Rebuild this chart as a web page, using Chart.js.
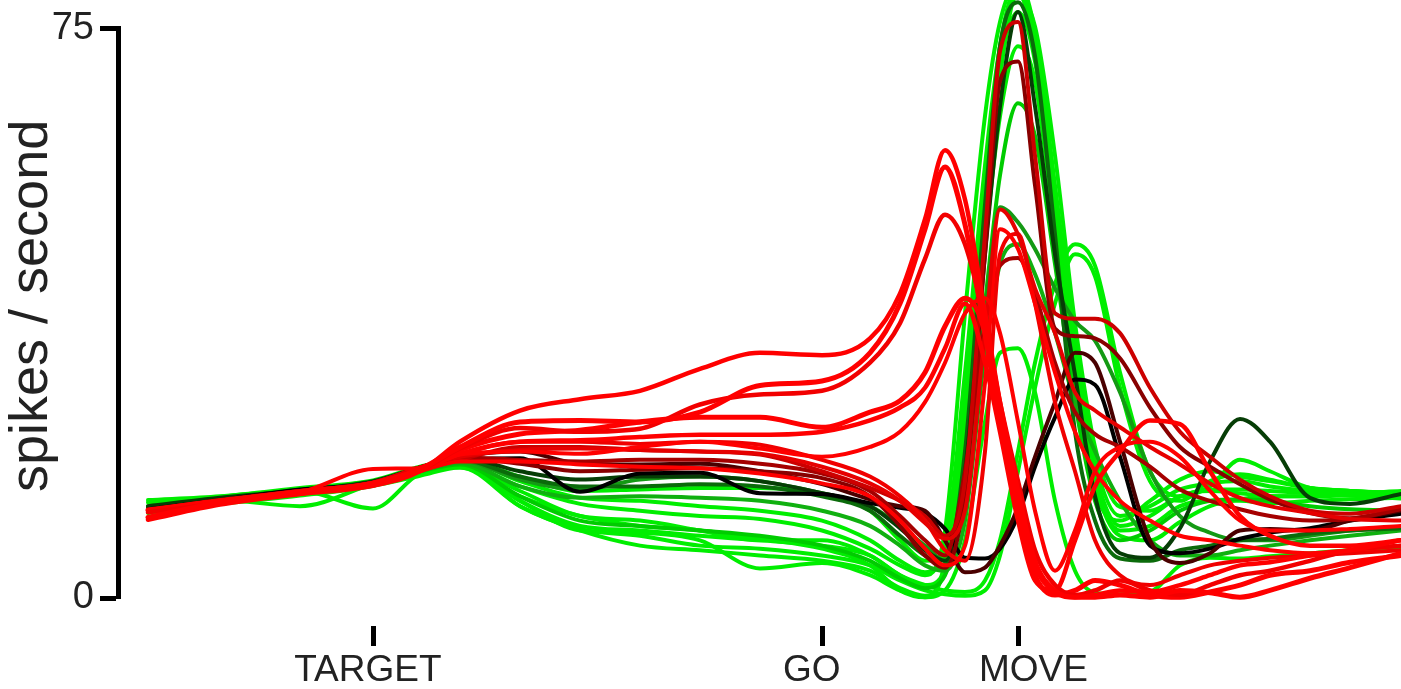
<!DOCTYPE html>
<html>
<head>
<meta charset="utf-8">
<script src="https://cdn.jsdelivr.net/npm/chart.js@4.4.1/dist/chart.umd.min.js"></script>
<style>
  html, body { margin: 0; padding: 0; background: #ffffff; }
  #wrap { width: 1401px; height: 689px; position: relative; }
</style>
</head>
<body>
<div id="wrap"><canvas id="psth" width="1401" height="689"></canvas></div>
<script>
// Sample times (ms, target onset = 0)
const timeMs = [-225,-153,-73,0,47,87,147,207,267,327,387,449,497,527,552,572,592,612,627,645,662,682,702,722,747,777,807,837,867,897,937,977,1028];

// Task events marked under the time axis (padding spaces nudge each label)
const eventTimes = [0, 449, 645];
const eventLabels = ['TARGET ', 'GO  ', '   MOVE'];
const yTickValues = [0, 75];

// Firing rates (spikes / second), one array per condition
const green1 = [11.5,12.8,13.8,15.1,16.9,17.4,12.8,8.9,8.6,7.6,3.9,4.6,3.0,1.0,0.1,4.3,23.2,50.5,68.8,79.9,71.4,50.5,30.3,15.2,8.2,7.6,10.0,12.1,13.0,13.4,13.4,13.7,13.4];
const green2 = [12.1,13.2,14.2,15.2,16.7,17.7,14.7,12.4,11.5,10.8,10.4,8.9,6.5,4.3,3.0,8.9,37.5,63.5,75.9,81.1,74.6,54.4,33.6,18.0,10.8,12.1,14.3,15.1,15.4,14.7,14.1,13.8,14.1];
const green3 = [11.2,12.4,13.5,14.8,16.4,17.4,14.1,10.8,10.2,8.9,7.6,7.6,5.6,3.0,1.7,3.6,19.3,46.6,63.5,72.7,68.1,47.9,28.4,14.1,10.2,12.8,15.6,16.7,16.0,15.4,14.5,14.1,13.8];
const green4 = [11.7,13.3,14.3,15.4,16.9,18.2,15.4,13.2,12.8,12.1,11.5,10.2,7.6,4.9,3.4,6.9,29.7,57.0,72.7,79.2,75.3,58.3,36.2,19.9,12.0,11.5,13.4,14.3,14.3,14.1,13.8,13.5,13.1];
const green5 = [12.0,13.0,14.1,15.1,16.7,17.6,13.4,10.2,9.5,8.9,8.2,6.9,4.9,2.6,1.3,3.0,15.4,38.8,55.7,65.2,60.9,44.0,25.8,12.8,7.6,8.9,11.5,12.8,13.0,12.8,12.1,11.7,11.5];
const green6 = [12.6,13.3,14.3,15.4,16.7,17.7,12.8,9.5,8.9,8.2,7.6,6.9,5.6,3.0,1.7,1.0,0.8,2.3,7.6,19.3,31.0,41.4,46.6,43.8,29.7,16.7,13.4,14.7,18.2,16.7,14.5,14.1,13.8];
const green7 = [11.8,12.9,12.1,15.0,16.5,17.6,12.1,9.1,8.2,6.9,6.5,5.6,4.3,2.3,1.0,0.5,0.3,1.0,5.6,16.7,27.7,38.8,45.3,42.4,27.7,15.4,12.8,15.4,16.3,15.6,14.5,14.1,13.7];
const green8 = [11.3,12.8,14.1,11.8,16.4,17.2,13.4,10.8,9.5,8.9,7.8,6.5,4.3,1.0,0.1,1.0,7.6,23.2,32.3,32.9,27.1,12.8,3.6,0.7,0.5,0.8,4.3,5.3,5.2,5.5,5.9,6.3,6.6];
const green9 = [12.9,13.4,14.5,15.5,17.3,18.2,16.0,14.1,14.3,14.5,14.5,13.7,11.5,7.6,4.9,5.6,25.8,54.4,72.7,80.5,73.4,53.1,32.3,16.7,9.5,10.8,13.4,14.1,13.8,13.4,13.4,13.5,13.4];
const green10 = [11.3,12.5,13.7,14.8,16.1,17.2,12.1,8.9,6.9,6.3,5.6,4.9,3.6,1.3,0.3,4.9,28.4,53.1,70.1,77.2,70.7,50.5,29.7,15.4,8.9,9.5,12.1,12.8,12.8,12.5,12.8,13.0,13.2];
const midGreen1 = [11.8,13.0,14.1,15.2,16.9,18.1,15.6,14.3,15.6,16.0,15.4,13.8,12.1,9.5,6.9,4.9,12.8,37.5,51.5,49.5,46.0,40.8,36.5,33.9,27.1,16.7,10.8,8.6,7.6,7.6,8.2,8.9,9.2];
const midGreen2 = [11.5,12.9,13.9,15.0,16.7,17.8,14.7,13.2,13.4,13.2,12.8,11.5,9.5,6.9,4.3,3.6,10.2,32.3,44.0,46.6,42.7,34.9,25.8,19.3,12.8,7.6,5.6,5.6,6.3,6.9,7.6,8.2,8.9];
const darkGreen1 = [12.1,13.2,14.2,15.4,17.2,18.5,16.7,15.6,16.0,16.0,15.4,13.8,12.1,9.2,6.3,4.9,16.7,45.3,64.8,77.2,64.8,45.3,29.4,13.4,5.9,5.3,9.2,18.0,23.6,20.6,13.2,12.4,13.7];
const darkGreen2 = [11.7,12.9,14.1,15.2,16.9,18.2,16.0,14.7,14.7,15.0,14.7,13.4,11.5,8.2,5.6,4.3,19.3,51.8,72.7,78.5,71.4,47.9,21.9,10.2,5.2,4.9,6.3,6.9,7.6,7.8,8.5,8.9,9.2];
const black1 = [11.7,12.9,14.3,15.1,16.9,18.2,18.4,14.0,16.4,16.5,13.8,13.7,12.5,11.9,11.2,9.1,5.3,5.2,6.5,10.8,17.3,23.8,28.8,28.1,18.6,6.9,5.9,6.5,7.8,8.6,9.2,10.2,11.1];
const brown1 = [11.5,12.8,14.1,15.2,17.2,18.6,19.3,17.7,17.6,17.7,16.7,15.0,13.0,12.1,11.5,7.6,3.4,4.0,6.9,12.0,18.6,25.8,32.3,31.0,20.6,7.6,4.6,5.9,8.9,9.1,8.9,10.2,11.5];
const darkRed1 = [11.5,12.8,14.1,15.1,16.9,18.4,17.7,16.7,16.9,17.1,16.7,15.8,13.4,9.5,5.6,4.0,14.1,45.3,68.1,70.7,54.4,35.5,34.5,34.2,31.6,25.1,19.9,17.3,15.0,13.0,11.2,10.5,11.8];
const darkRed2 = [11.5,12.8,13.9,15.1,16.8,18.2,19.9,19.9,19.5,19.3,18.9,16.7,14.5,12.8,10.8,8.2,15.4,47.9,72.0,75.9,58.3,37.5,36.8,36.8,34.9,27.7,21.9,18.6,15.6,13.4,11.5,11.1,12.1];
const darkRed3 = [11.6,12.8,14.1,15.2,17.1,18.5,18.2,18.0,18.2,18.2,17.7,16.4,14.1,10.8,7.6,5.6,16.7,36.2,43.8,44.8,40.1,31.0,24.5,21.6,19.9,17.3,14.3,12.8,11.7,10.8,10.2,10.4,11.7];
const red1 = [11.5,12.8,13.9,15.2,17.2,18.6,19.5,19.7,19.5,19.3,19.0,17.3,15.1,12.8,9.9,7.8,11.5,34.9,51.2,47.9,40.8,34.9,27.1,24.7,22.5,19.9,17.6,15.1,13.2,12.1,11.2,10.4,10.2];
const red2 = [10.6,12.6,13.8,15.0,16.7,18.0,18.0,17.6,17.3,17.1,16.4,15.1,13.4,10.2,6.5,4.3,6.9,28.4,48.6,46.0,38.8,29.7,21.9,16.7,12.8,10.2,8.2,7.6,6.9,6.3,5.9,6.3,6.9];
const red3 = [11.6,12.9,14.1,15.2,17.2,18.9,20.6,20.6,20.3,20.6,20.2,18.2,16.0,13.4,10.2,6.3,4.9,19.3,45.3,48.0,38.8,25.8,16.7,7.6,3.0,1.7,3.0,4.3,4.9,5.3,5.6,5.9,6.3];
const red4 = [10.3,12.3,13.7,14.8,16.7,20.6,24.7,26.2,27.3,30.2,32.3,32.0,34.2,40.1,49.9,59.0,52.5,37.5,25.8,14.1,4.9,1.0,0.1,0.4,1.0,0.8,1.7,3.0,4.3,4.7,5.6,6.3,7.6];
const red5 = [10.6,12.6,13.9,15.1,17.0,19.9,23.2,23.4,23.2,24.5,28.0,28.6,32.3,38.8,48.6,56.8,49.2,34.9,23.2,12.8,4.3,0.8,0.1,0.1,0.4,0.1,1.0,0.7,0.1,1.0,2.6,4.0,5.9];
const red6 = [11.3,12.5,13.8,15.0,16.8,19.7,22.4,21.9,22.3,25.5,26.8,27.3,31.0,36.2,44.7,50.5,46.6,36.2,25.8,15.4,6.3,1.7,0.4,1.0,2.3,1.0,0.4,1.7,3.0,3.6,4.9,6.3,6.9];
const red7 = [11.6,12.8,14.0,15.1,16.9,19.5,21.6,22.1,23.2,23.8,23.8,22.5,24.5,26.0,29.7,35.8,39.5,34.9,23.2,11.5,3.0,0.4,1.0,2.3,1.7,0.4,0.1,0.8,1.7,3.0,3.6,4.7,5.6];
const red8 = [11.5,12.6,13.8,15.1,16.8,19.0,20.6,20.8,21.2,21.5,21.5,21.9,23.4,25.1,27.7,32.9,38.8,31.0,21.9,10.2,2.3,1.0,7.6,14.7,19.3,23.4,22.9,16.7,10.8,8.2,6.9,6.9,7.6];
const red9 = [11.5,12.8,13.9,17.0,17.1,18.9,19.3,19.0,19.9,20.6,19.7,18.6,19.9,21.9,25.8,31.0,37.5,39.5,34.9,23.2,11.5,3.6,8.9,16.7,19.9,20.6,18.6,14.1,10.2,8.9,8.9,9.1,9.5];

// Drawn top-first: reds over dark traces over greens
const traces = [
  [red4, '#ff0000', 4.5], [red5, '#ff0000', 5], [red6, '#f20000', 4.5],
  [red7, '#ff0000', 5], [red8, '#ff0000', 4.5], [red9, '#ff0000', 4],
  [red1, '#e60000', 4], [red2, '#ff0000', 4], [red3, '#f00000', 4],
  [darkRed2, '#cc0000', 4], [darkRed3, '#a50000', 4], [darkRed1, '#880000', 4],
  [brown1, '#4a0000', 4], [black1, '#000000', 4],
  [darkGreen1, '#063d06', 4], [darkGreen2, '#0b6b0b', 4],
  [midGreen1, '#149a14', 4], [midGreen2, '#10b010', 4],
  [green5, '#00cc00', 4], [green1, '#00ee00', 4], [green2, '#00ee00', 4],
  [green3, '#00ee00', 4], [green4, '#00ee00', 4], [green6, '#00ee00', 4],
  [green7, '#00ee00', 4], [green8, '#00ee00', 4], [green9, '#00ee00', 4],
  [green10, '#00ee00', 4]
];

const datasets = traces.map(([vals, color, w], i) => ({
  label: 'c' + (i + 1),
  data: vals.map((v, k) => ({ x: timeMs[k], y: v })),
  borderColor: color,
  borderWidth: w,
  pointRadius: 0,
  fill: false,
  clip: false,
  cubicInterpolationMode: 'monotone',
  borderCapStyle: 'round',
  borderJoinStyle: 'round'
}));

new Chart(document.getElementById('psth'), {
  type: 'line',
  data: { datasets },
  options: {
    responsive: false,
    animation: false,
    devicePixelRatio: 1,
    layout: { padding: { top: 22, right: 0, bottom: 0, left: 0 } },
    plugins: { legend: { display: false }, tooltip: { enabled: false } },
    scales: {
      x: {
        type: 'linear',
        min: -255,
        max: 1028,
        afterBuildTicks: (s) => { s.ticks = eventTimes.map(v => ({ value: v })); },
        afterFit: (s) => { s.height = 91; },
        border: { display: false },
        grid: {
          drawOnChartArea: false,
          drawTicks: true,
          tickLength: 48,
          tickWidth: 5,
          tickColor: '#000000',
          tickBorderDash: [20, 1000],
          tickBorderDashOffset: 992
        },
        ticks: {
          autoSkip: false,
          maxRotation: 0,
          padding: 3,
          color: '#222222',
          font: { family: "'Liberation Sans Narrow', 'Liberation Sans', Arial, sans-serif", size: 37 },
          callback: (v) => eventLabels[eventTimes.indexOf(v)]
        }
      },
      y: {
        type: 'linear',
        min: 0,
        max: 75,
        afterBuildTicks: (s) => { s.ticks = yTickValues.map(v => ({ value: v })); },
        afterFit: (s) => { s.width = 118; },
        border: { display: true, color: '#000000', width: 5 },
        grid: {
          drawOnChartArea: false,
          drawTicks: true,
          tickLength: 18,
          tickWidth: 5,
          tickColor: '#000000'
        },
        ticks: {
          padding: 6,
          color: '#222222',
          font: { family: "'Liberation Sans', Arial, sans-serif", size: 38 }
        },
        title: {
          display: true,
          text: ' spikes / second',
          color: '#222222',
          font: { family: "'Liberation Sans', Arial, sans-serif", size: 54 },
          padding: { top: 0, bottom: 0 }
        }
      }
    }
  }
});
</script>
</body>
</html>
